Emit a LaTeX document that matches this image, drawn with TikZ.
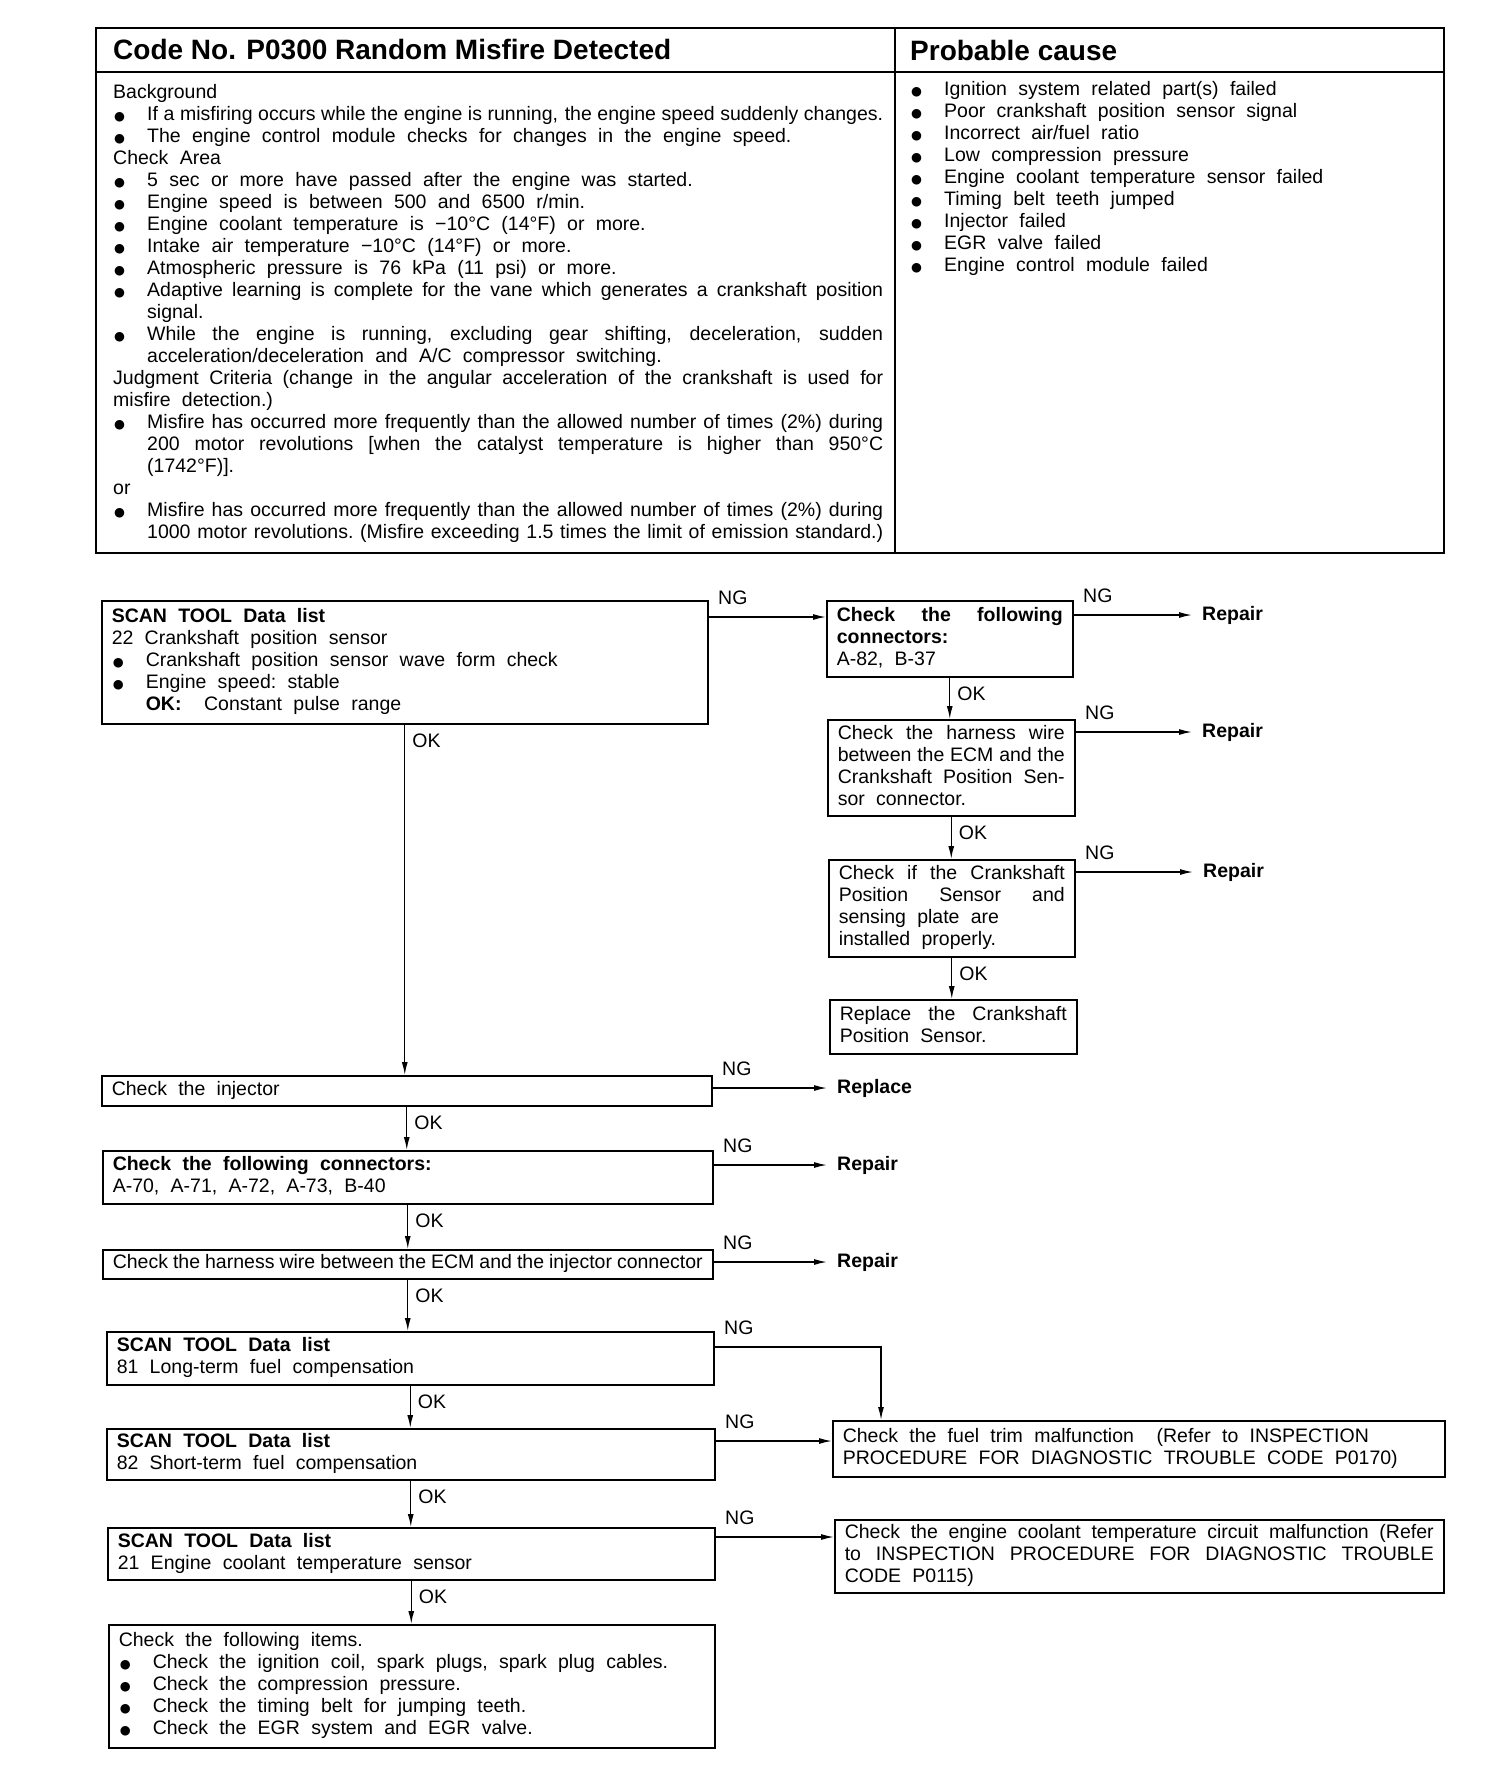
\documentclass[tikz,border=0pt]{standalone}
\usepackage{fontspec}
\setmainfont{Liberation Sans}
\newfontfamily\symfont{DejaVu Sans}
\usetikzlibrary{arrows.meta,positioning}

\newcommand\fsz{\fontsize{19.5}{22}\selectfont\spaceskip=.58em plus .5em minus .33em\relax\xspaceskip=\spaceskip\parindent=0pt\hyphenpenalty=10000\exhyphenpenalty=10000\tolerance=9999\relax}
\newcommand\tightsp{\spaceskip=.27em plus .1em minus .1em\relax}
\newcommand\blt{{\symfont\fontsize{12.5}{12}\selectfont ●}}
\newcommand\fitm{\parfillskip=0pt plus 1fil\relax\hangindent=34pt\hangafter=1\makebox[34pt][l]{\hspace{1pt}\blt}\strut}
\newcommand\itm{\par\noindent\fitm}
\newcommand\rbr{\unskip\nobreak\hfil\break}
\newcommand\jend{\parfillskip=0pt\relax}

\begin{document}
\begin{tikzpicture}[x=1pt, y=-1pt, every node/.style={font=\fsz}]
\tikzset{box/.style={draw, line width=1.5pt, font=\fsz, align=justify, inner xsep=10pt, inner ysep=0pt, anchor=north west, execute at begin node=\strut, execute at end node={\ifhmode\strut\fi}}}
\tikzset{txt/.style={font=\fsz, align=justify, inner sep=0pt, anchor=north west}}
\tikzset{hdr/.style={font=\fontsize{28}{30}\selectfont\bfseries, anchor=west, inner sep=0pt}}
\tikzset{act/.style={font=\fsz\bfseries, anchor=west, inner xsep=10pt, inner ysep=2pt}}
\tikzset{arr/.style={line width=1.4pt, -{Latex[length=13pt,width=6pt]}}}
\tikzset{okl/.style={anchor=north west, inner sep=0pt, xshift=7pt, yshift=-9pt}}
\tikzset{ngl/.style={anchor=south west, inner sep=0pt, xshift=9pt, yshift=12pt}}
\useasboundingbox (0,0) rectangle (1504,1772);

% table
\draw[line width=2pt] (96,28) rectangle (1444,553);
\draw[line width=1.5pt] (96,72) -- (1444,72);
\draw[line width=1.5pt] (895,28) -- (895,553);
\node[hdr] (code) at (113,50) {Code No. P0300 Random Misfire Detected};
\node[hdr] (cause) at (910,50) {Probable cause};
\node[txt, text width=770pt] (bg) at (113,83) {\strut Background
\itm If a misfiring occurs while the engine is running, the engine speed suddenly changes.\jend
\itm The engine control module checks for changes in the engine speed.
\par Check Area
\itm 5 sec or more have passed after the engine was started.
\itm Engine speed is between 500 and 6500 r/min.
\itm Engine coolant temperature is −10°C (14°F) or more.
\itm Intake air temperature −10°C (14°F) or more.
\itm Atmospheric pressure is 76 kPa (11 psi) or more.
\itm Adaptive learning is complete for the vane which generates a crankshaft position\linebreak signal.
\itm While the engine is running, excluding gear shifting, deceleration, sudden\linebreak acceleration/deceleration and A/C compressor switching.
\par\parfillskip=0pt plus 1fil\relax Judgment Criteria (change in the angular acceleration of the crankshaft is used for\linebreak misfire detection.)
\itm Misfire has occurred more frequently than the allowed number of times (2\%) during\linebreak 200 motor revolutions [when the catalyst temperature is higher than 950°C\linebreak (1742°F)].
\par or
\itm Misfire has occurred more frequently than the allowed number of times (2\%) during\linebreak 1000 motor revolutions. (Misfire exceeding 1.5 times the limit of emission standard.)\jend\par};
\node[txt, text width=520pt] (pc) at (910,79.4) {\fitm Ignition system related part(s) failed
\itm Poor crankshaft position sensor signal
\itm Incorrect air/fuel ratio
\itm Low compression pressure
\itm Engine coolant temperature sensor failed
\itm Timing belt teeth jumped
\itm Injector failed
\itm EGR valve failed
\itm Engine control module failed};

% crankshaft sensor branch
\node[box, text width=586pt, minimum height=123pt] (A) at (101,600) {\textbf{SCAN TOOL Data list}\rbr 22 Crankshaft position sensor
\itm Crankshaft position sensor wave form check
\itm Engine speed: stable\rbr \textbf{OK:}\ \ Constant pulse range\strut\par};
\node[box, text width=226pt, minimum height=76pt] (B) at (826,600) {\textbf{Check the following\linebreak connectors:}\rbr A-82, B-37};
\node[box, text width=227pt, minimum height=96pt] (C) at (827,719) {Check the harness wire\linebreak between the ECM and the\linebreak Crankshaft Position Sen-\linebreak sor connector.};
\node[box, text width=226pt, minimum height=97pt] (D) at (828,859) {Check if the Crankshaft\linebreak Position Sensor and\linebreak sensing plate are\rbr installed properly.};
\node[box, text width=227pt, minimum height=54pt] (E) at (829,999) {Replace the Crankshaft\linebreak Position Sensor.};
\node[act] (rB) at (1192,615) {Repair};
\node[act] (rC) at (1192,732) {Repair};
\node[act] (rD) at (1193,872) {Repair};

% main column
\node[box, text width=590pt, minimum height=30pt] (F) at (101,1075) {Check the injector};
\node[box, text width=590pt, minimum height=53pt] (G) at (102,1150) {\textbf{Check the following connectors:}\rbr A-70, A-71, A-72, A-73, B-40};
\node[box, text width=590pt, minimum height=29pt] (H) at (102,1249) {\tightsp Check the harness wire between the ECM and the injector connector};
\node[box, text width=587pt, minimum height=53pt] (I) at (106,1331) {\textbf{SCAN TOOL Data list}\rbr 81 Long-term fuel compensation};
\node[box, text width=588pt, minimum height=51pt] (K) at (106,1428) {\textbf{SCAN TOOL Data list}\rbr 82 Short-term fuel compensation};
\node[box, text width=587pt, minimum height=52pt] (L) at (107,1527) {\textbf{SCAN TOOL Data list}\rbr 21 Engine coolant temperature sensor};
\node[box, text width=586pt, minimum height=123pt] (N) at (108,1624) {Check the following items.
\itm Check the ignition coil, spark plugs, spark plug cables.
\itm Check the compression pressure.
\itm Check the timing belt for jumping teeth.
\itm Check the EGR system and EGR valve.};
\node[act] (rF) at (827,1088) {Replace};
\node[act] (rG) at (827,1165) {Repair};
\node[act] (rH) at (827,1262) {Repair};
\node[box, text width=592pt, minimum height=56pt] (J) at (832,1420) {Check the fuel trim malfunction\ \ (Refer to INSPECTION\rbr PROCEDURE FOR DIAGNOSTIC TROUBLE CODE P0170)};
\node[box, text width=589pt, minimum height=73pt] (M) at (834,1519) {Check the engine coolant temperature circuit malfunction (Refer\linebreak to INSPECTION PROCEDURE FOR DIAGNOSTIC TROUBLE\linebreak CODE P0115)};

% NG connectors
\draw[arr] ([yshift=-17pt]A.north east) -- node[ngl, pos=0]{NG} ([yshift=-17pt]A.north east -| B.west);
\draw[arr] (B.east |- rB) -- node[ngl, pos=0]{NG} (rB);
\draw[arr] (C.east |- rC) -- node[ngl, pos=0]{NG} (rC);
\draw[arr] (D.east |- rD) -- node[ngl, pos=0]{NG} (rD);
\draw[arr] (F.east |- rF) -- node[ngl, pos=0]{NG} (rF);
\draw[arr] (G.east |- rG) -- node[ngl, pos=0]{NG} (rG);
\draw[arr] (H.east |- rH) -- node[ngl, pos=0]{NG} (rH);
\draw[arr] ([yshift=-16pt]I.north east) -| node[ngl, pos=0]{NG} ([xshift=49pt]J.north west);
\draw[arr] ([yshift=-13pt]K.north east) -- node[ngl, pos=0]{NG} ([yshift=-13pt]K.north east -| J.west);
\draw[arr] ([yshift=-10pt]L.north east) -- node[ngl, pos=0]{NG} ([yshift=-10pt]L.north east -| M.west);

% OK connectors
\draw[arr] (B.south) -- node[okl, pos=0]{OK} (B.south |- C.north);
\draw[arr] (C.south) -- node[okl, pos=0]{OK} (C.south |- D.north);
\draw[arr] (D.south) -- node[okl, pos=0]{OK} (D.south |- E.north);
\draw[arr] (A.south) -- node[okl, pos=0]{OK} (A.south |- F.north);
\draw[arr] (F.south) -- node[okl, pos=0]{OK} (F.south |- G.north);
\draw[arr] (G.south) -- node[okl, pos=0]{OK} (G.south |- H.north);
\draw[arr] (H.south) -- node[okl, pos=0]{OK} (H.south |- I.north);
\draw[arr] (I.south) -- node[okl, pos=0]{OK} (I.south |- K.north);
\draw[arr] (K.south) -- node[okl, pos=0]{OK} (K.south |- L.north);
\draw[arr] (L.south) -- node[okl, pos=0]{OK} (L.south |- N.north);
\end{tikzpicture}
\end{document}
